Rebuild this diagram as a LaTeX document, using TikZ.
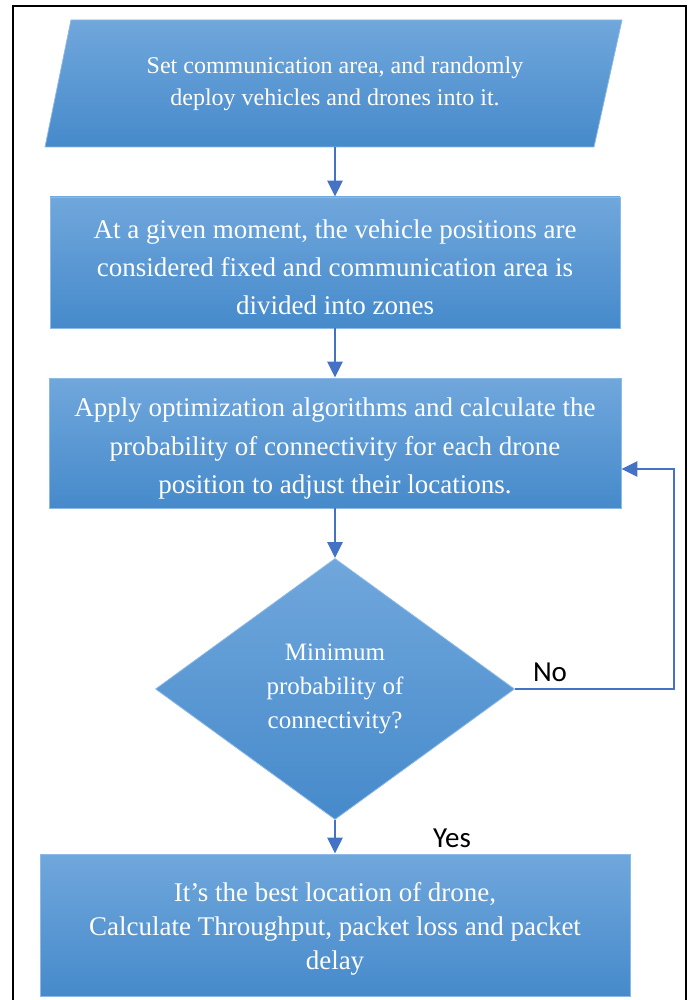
\documentclass[tikz,border=0pt]{standalone}
\usepackage{fontspec}
\setmainfont{Liberation Serif}
\newfontfamily\labelfont{Carlito}
\usetikzlibrary{shapes.geometric,arrows.meta,calc}

\definecolor{boxtop}{RGB}{112,167,220}
\definecolor{boxbot}{RGB}{70,138,203}
\definecolor{boxedge}{RGB}{140,185,230}
\definecolor{flowline}{RGB}{68,114,196}

\begin{document}
\begin{tikzpicture}[x=1pt, y=-1pt,
  stepbox/.style={rectangle, top color=boxtop, bottom color=boxbot, draw=boxedge, line width=0.8pt, inner sep=0pt},
  decide/.style={diamond, top color=boxtop, bottom color=boxbot, draw=boxedge, line width=0.8pt,
    text=white, align=center, inner sep=0pt, font=\fontsize{25}{34}\selectfont},
  txt/.style={text=white, align=center, inner sep=0pt, font=\fontsize{27}{#1}\selectfont},
  lbl/.style={font=\labelfont\fontsize{29}{34}\selectfont, inner sep=0pt},
  flow/.style={draw=flowline, line width=2.8pt, -{Triangle[length=16pt,width=15pt]}}]
  \useasboundingbox (0,0) rectangle (692,1000);
  \draw[line width=2.5pt] (13,1003) -- (13,6) -- (686,6) -- (686,1003);

  \shade[top color=boxtop, bottom color=boxbot] (71,20) -- (622,20) -- (594,147) -- (45,147) -- cycle;
  \draw[boxedge, line width=0.8pt] (71,20) -- (622,20) -- (594,147) -- (45,147) -- cycle;
  \node[text=white, align=center, inner sep=0pt, minimum width=500pt, minimum height=127pt,
    font=\fontsize{24}{32}\selectfont] (setup) at (335,83.5)
    {Set communication area, and randomly\\deploy vehicles and drones into it.};

  \node[stepbox, minimum width=570pt, minimum height=131pt,
    label={[txt=38, yshift=-5pt]center:{At a given moment, the vehicle positions are\\considered fixed and communication area is\\divided into zones}}] (fix) at (335,262.5) {};
  \node[stepbox, minimum width=572pt, minimum height=130pt,
    label={[txt=38.5, yshift=-6pt]center:{Apply optimization algorithms and calculate the\\probability of connectivity for each drone\\position to adjust their locations.}}] (opt) at (335,443) {};
  \node[decide, minimum width=359pt, minimum height=261pt] (test) at (335,689)
    {Minimum\\probability of\\connectivity?};
  \node[stepbox, minimum width=590pt, minimum height=142pt,
    label={[txt=34, yshift=-4pt]center:{It’s the best location of drone,\\Calculate Throughput, packet loss and packet\\delay}}] (result) at (335,925) {};

  \node[lbl] (no) at (550,672) {No};
  \node[lbl] (yes) at (452,838) {Yes};
  \coordinate (turn) at (674,469);

  \draw[flow] (setup) -- (fix);
  \draw[flow] (fix) -- (opt);
  \draw[flow] (opt) -- (test);
  \draw[flow] (test) -- (result);
  \draw[flow] (test.east) -| (turn) -- (turn -| opt.east);
\end{tikzpicture}
\end{document}
